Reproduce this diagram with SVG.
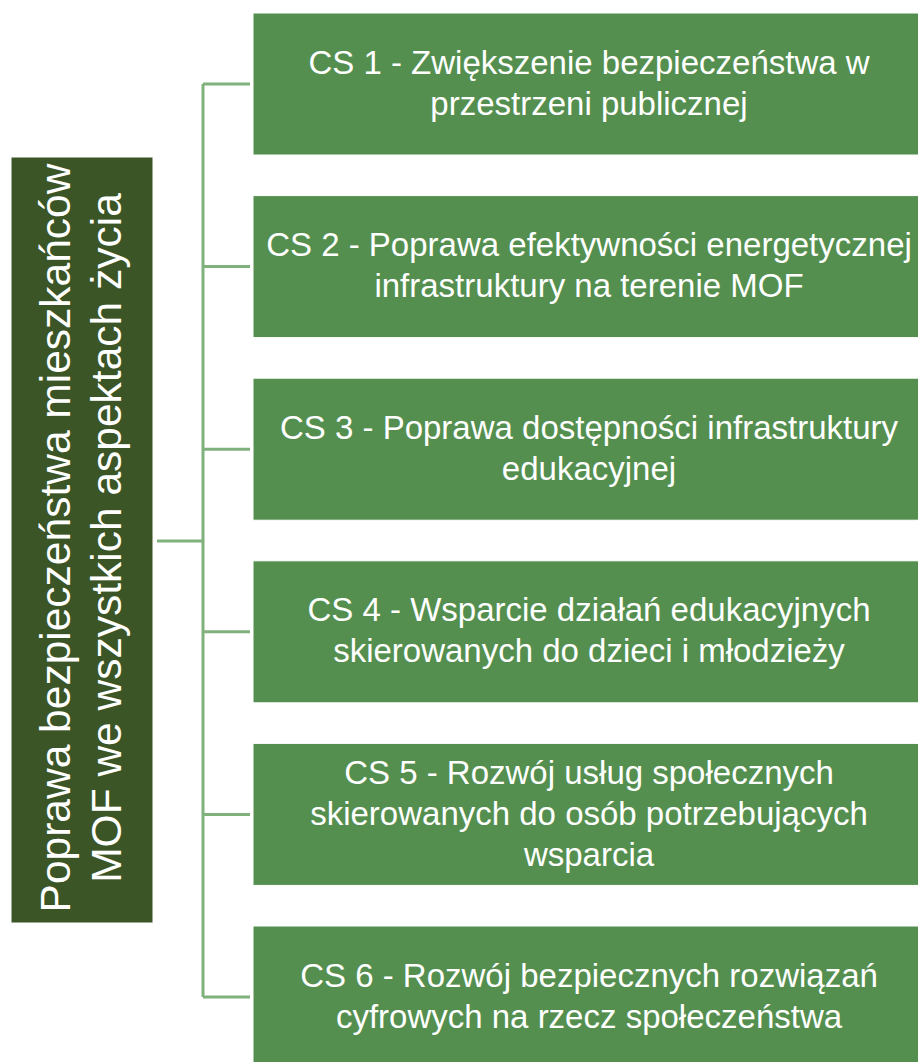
<svg xmlns="http://www.w3.org/2000/svg" width="918" height="1062" viewBox="0 0 918 1062">
<style>
.box{fill:#548f4f;stroke:#ffffff;stroke-width:1}
.main{fill:#3b5526;stroke:#ffffff;stroke-width:1}
.t{font-family:"Liberation Sans",Arial,sans-serif;font-size:33px;fill:#ffffff;text-anchor:middle}
.tm{font-family:"Liberation Sans",Arial,sans-serif;font-size:42.5px;fill:#ffffff;text-anchor:middle}
.conn{stroke:#80b17c;stroke-width:3;fill:none}
</style>
<rect width="918" height="1062" fill="#ffffff"/>
<g id="connectors">
<path class="conn" d="M157 541H203M203 84V997M203 84H250M203 266.6H250M203 449.2H250M203 631.8H250M203 814.4H250M203 997H250"/>
</g>
<g id="main">
<rect class="main" x="11" y="157" width="142" height="766"/>
<text class="tm" transform="translate(70,538) rotate(-90)">Poprawa bezpieczeństwa mieszkańców</text>
<text class="tm" transform="translate(121,538) rotate(-90)">MOF we wszystkich aspektach życia</text>
</g>
<g id="cs1">
<rect class="box" x="253" y="13" width="680" height="142"/>
<text class="t" x="589" y="73.5">CS 1 - Zwiększenie bezpieczeństwa w</text>
<text class="t" x="589" y="114.5">przestrzeni publicznej</text>
</g>
<g id="cs2">
<rect class="box" x="253" y="195.6" width="680" height="142"/>
<text class="t" x="589" y="256.1">CS 2 - Poprawa efektywności energetycznej</text>
<text class="t" x="589" y="297.1">infrastruktury na terenie MOF</text>
</g>
<g id="cs3">
<rect class="box" x="253" y="378.2" width="680" height="142"/>
<text class="t" x="589" y="438.7">CS 3 - Poprawa dostępności infrastruktury</text>
<text class="t" x="589" y="479.7">edukacyjnej</text>
</g>
<g id="cs4">
<rect class="box" x="253" y="560.8" width="680" height="142"/>
<text class="t" x="589" y="621.3">CS 4 - Wsparcie działań edukacyjnych</text>
<text class="t" x="589" y="662.3">skierowanych do dzieci i młodzieży</text>
</g>
<g id="cs5">
<rect class="box" x="253" y="743.4" width="680" height="142"/>
<text class="t" x="589" y="784">CS 5 - Rozwój usług społecznych</text>
<text class="t" x="589" y="825">skierowanych do osób potrzebujących</text>
<text class="t" x="589" y="866">wsparcia</text>
</g>
<g id="cs6">
<rect class="box" x="253" y="926" width="680" height="142"/>
<text class="t" x="589" y="986.5">CS 6 - Rozwój bezpiecznych rozwiązań</text>
<text class="t" x="589" y="1027.5">cyfrowych na rzecz społeczeństwa</text>
</g>
</svg>
